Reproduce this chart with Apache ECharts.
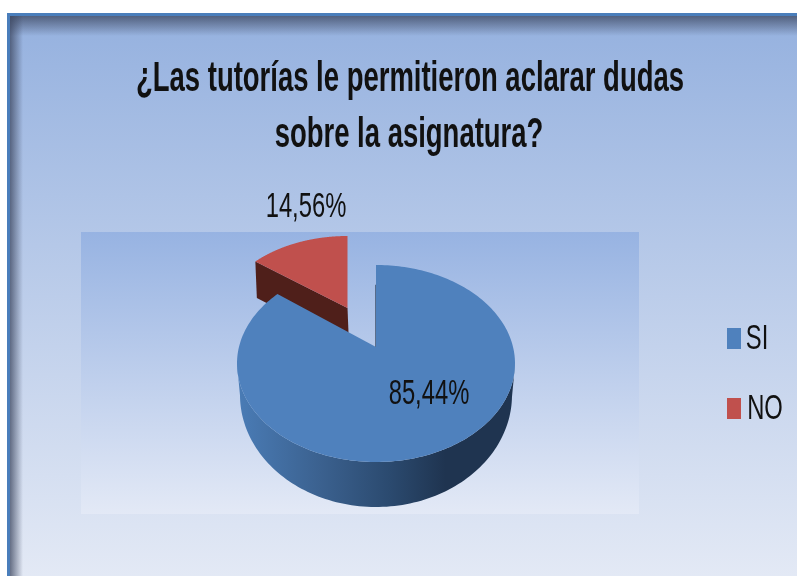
<!DOCTYPE html>
<html>
<head>
<meta charset="utf-8">
<style>html,body{margin:0;padding:0;background:#fff}#c{width:797px;height:576px}</style>
<script src="https://cdn.jsdelivr.net/npm/echarts@6/dist/echarts.min.js"></script>
</head>
<body>
<div id="c"></div>
<script>
const titleLines = ['¿Las tutorías le permitieron aclarar dudas', 'sobre la asignatura?'];
const categories = ['SI', 'NO'];
const values = [85.44, 14.56];
const colors = ['#4f81bd', '#c0504d'];

const FONT = '"Liberation Sans",sans-serif';
const NARROW = 0.68;
const TITLE_NARROW = 0.654;
const total = values.reduce((a, b) => a + b, 0);
const sharesBefore = values.map((_, i) => values.slice(0, i).reduce((a, b) => a + b, 0) / total);
const shares = values.map(v => v / total);
const fmt = v => v.toFixed(2).replace('.', ',') + '%';

// Perspective disc: the pie centre projects above the ellipse centre.
const persp = 0.1675;
function project(frac) {
  const t = frac * 2 * Math.PI, u = Math.sin(t), v = Math.cos(t);
  const d = 1 + persp * v;
  return [u * Math.sqrt(1 - persp * persp) / d, (v + persp) / d];
}
const discs = [
  { cx: 376, cy: 363.5, rx: 139, ry: 98.5, bx: 376, by: 395, brx: 136, bry: 112, labelX: 429, labelY: 394 },
  { cx: 347.5, cy: 322.5, rx: 130, ry: 86.5, bx: 349, by: 360, brx: 130, bry: 88, labelX: 306, labelY: 207 }
];
const toTop = (g, p) => [g.cx + p[0] * g.rx, g.cy - p[1] * g.ry];
const toBottom = (g, p) => [g.bx + p[0] * g.brx, g.by - p[1] * g.bry];

function renderSlice(i) {
  const g = discs[i];
  const color = colors[i];
  const start = sharesBefore[i], span = shares[i], steps = 220;
  const arc = [];
  for (let k = 0; k <= steps; k++) arc.push(project(start + span * k / steps));
  const apexN = [0, persp];
  const apex = toTop(g, apexN);
  const topPoly = [apex].concat(arc.map(p => toTop(g, p)));
  const children = [];

  if (i === 0) {
    const front = arc.filter(p => p[1] <= 0);
    const side = front.map(p => toTop(g, p)).concat(front.slice().reverse().map(p => toBottom(g, p)));
    children.push({
      type: 'polygon', shape: { points: side },
      style: {
        fill: new echarts.graphic.LinearGradient(0, 0, 1, 0, [
          { offset: 0, color: '#4a7cb6' },
          { offset: 0.3, color: '#3b618f' },
          { offset: 0.55, color: '#2b4a6f' },
          { offset: 0.75, color: '#1f3450' },
          { offset: 1, color: '#1f3450' }
        ])
      }
    });
    const firstEdge = toTop(g, project(start));
    children.push({
      type: 'line',
      shape: { x1: apex[0], y1: apex[1], x2: apex[0] + (firstEdge[0] - apex[0]) * 0.76, y2: apex[1] + (firstEdge[1] - apex[1]) * 0.76 },
      style: { stroke: '#22344d', lineWidth: 1.2 }
    });
  } else {
    const corner = arc[0];
    const wall = [apex, toTop(g, corner), toBottom(g, corner), toBottom(g, apexN)];
    children.push({ type: 'polygon', shape: { points: wall }, style: { fill: '#4f1f1a' } });
  }
  children.push({ type: 'polygon', shape: { points: topPoly }, style: { fill: color } });
  children.push({
    type: 'text', x: g.labelX, y: g.labelY, scaleX: NARROW,
    style: { text: fmt(values[i]), font: '35px ' + FONT, fill: '#111', align: 'center', verticalAlign: 'middle' }
  });
  return { type: 'group', children };
}

const vGrad = (a, b) => new echarts.graphic.LinearGradient(0, 0, 0, 1, [{ offset: 0, color: a }, { offset: 1, color: b }]);
const hGrad = (a, b) => new echarts.graphic.LinearGradient(0, 0, 1, 0, [{ offset: 0, color: a }, { offset: 1, color: b }]);
const squeezed = (text, x, y, size, weight, scale) => ({
  type: 'text', z: 5, silent: true, x, y, scaleX: scale || NARROW,
  style: { text, font: (weight || '') + ' ' + size + 'px ' + FONT, fill: '#111', align: 'center', verticalAlign: 'middle' }
});
const chart = echarts.init(document.getElementById('c'), null, { renderer: 'canvas' });
chart.setOption({
  animation: false,
  backgroundColor: '#fff',
  legend: {
    orient: 'vertical', left: 727, top: 328, padding: 0,
    data: categories, icon: 'rect', itemWidth: 14, itemHeight: 21, itemGap: 49,
    formatter: () => '', textStyle: { fontSize: 1 }
  },
  graphic: { elements: [
    { type: 'rect', z: 0, silent: true, shape: { x: 7, y: 13, width: 790, height: 563 }, style: { fill: '#4a7ebb' } },
    { type: 'rect', z: 0, silent: true, shape: { x: 10, y: 16, width: 787, height: 560 }, style: { fill: vGrad('#95b1df', '#e3e9f5') } },
    { type: 'rect', z: 0, silent: true, shape: { x: 10, y: 16, width: 787, height: 20 }, style: { fill: vGrad('rgba(60,70,95,0.75)', 'rgba(60,70,95,0)') } },
    { type: 'rect', z: 0, silent: true, shape: { x: 10, y: 16, width: 13, height: 560 }, style: { fill: hGrad('rgba(60,70,95,0.75)', 'rgba(60,70,95,0)') } },
    { type: 'rect', z: 0, silent: true, shape: { x: 81, y: 232, width: 558, height: 282 }, style: { fill: vGrad('#97b3e2', '#e3e9f6') } },
    squeezed(titleLines[0], 410, 79, 42, 'bold', TITLE_NARROW),
    squeezed(titleLines[1], 409, 135, 42, 'bold', TITLE_NARROW),
    squeezed(categories[0], 757, 339, 35),
    squeezed(categories[1], 765, 409, 35)
  ] },
  series: [
    { type: 'custom', name: categories[1], coordinateSystem: 'none', z: 2, itemStyle: { color: colors[1] }, data: [values[1]], renderItem: () => renderSlice(1), silent: true },
    { type: 'custom', name: categories[0], coordinateSystem: 'none', z: 3, itemStyle: { color: colors[0] }, data: [values[0]], renderItem: () => renderSlice(0), silent: true }
  ]
});
</script>
</body>
</html>
